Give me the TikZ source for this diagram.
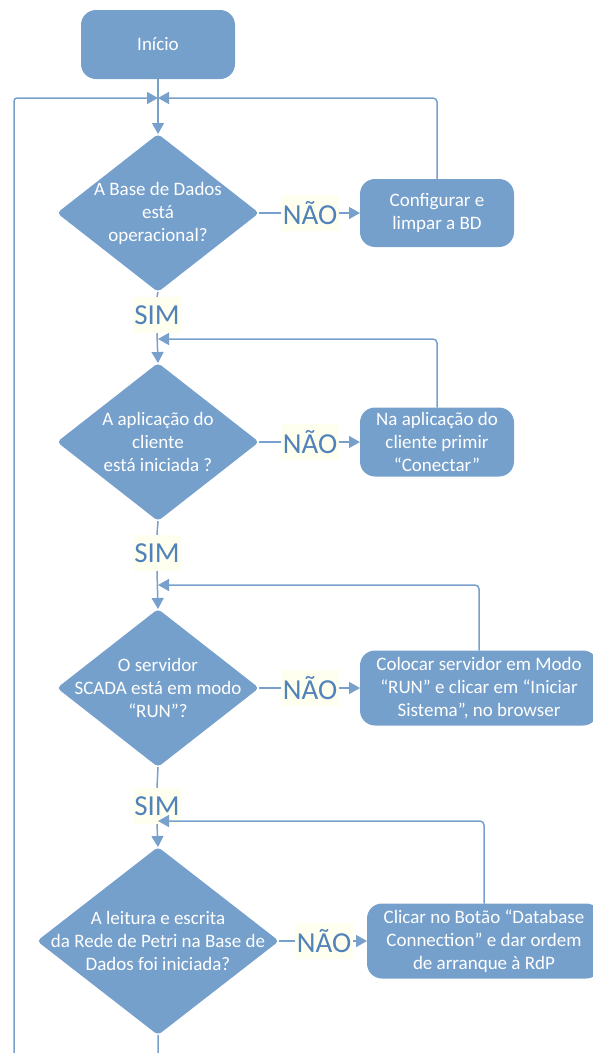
\documentclass[tikz,border=0pt]{standalone}
\usepackage{fontspec}
\setmainfont{Carlito}
\usetikzlibrary{shapes.geometric,arrows.meta}

\definecolor{boxblue}{RGB}{118,160,204}
\definecolor{lineblue}{RGB}{120,160,205}
\definecolor{lblblue}{RGB}{82,130,186}
\definecolor{lblback}{RGB}{255,255,240}

\tikzset{
  txt/.style={text=white,font=\fontsize{19}{23}\selectfont,align=center},
  stepbox/.style={fill=boxblue,rounded corners=15pt,inner sep=0pt,outer sep=0pt},
  decision/.style={diamond,fill=boxblue,rounded corners=4pt,inner sep=0pt,outer sep=0pt},
  answer/.style={fill=lblback,text=lblblue,font=\fontsize{29}{30}\selectfont,
    inner xsep=1.5pt,inner ysep=0pt,minimum height=36pt},
  flow/.style={draw=lineblue,line width=1.5pt,-{Triangle[length=11pt,width=12pt]}},
  wire/.style={draw=lineblue,line width=1.5pt}
}

\begin{document}
\begin{tikzpicture}[x=1pt,y=-1pt]
  \useasboundingbox (0,0) rectangle (593,1053);

  % start and the four questions
  \node[stepbox,txt,minimum width=154pt,minimum height=69pt] (start) at (158,44.5) {Início};
  \node[decision,minimum width=202pt,minimum height=158pt] (q1) at (158,213) {};
  \node[decision,minimum width=202pt,minimum height=158pt] (q2) at (158,442) {};
  \node[decision,minimum width=202pt,minimum height=158pt] (q3) at (158,688) {};
  \node[decision,minimum width=242pt,minimum height=188pt] (q4) at (158,941) {};
  \node[txt] (q1t) at (q1) {A Base de Dados\\está\\operacional?};
  \node[txt] (q2t) at (q2) {A aplicação do\\cliente\\está iniciada ?};
  \node[txt] (q3t) at (q3) {O servidor\\SCADA está em modo\\“RUN”?};
  \node[txt] (q4t) at (q4) {A leitura e escrita\\da Rede de Petri na Base de\\Dados foi iniciada?};

  % actions on the NÃO side
  \node[stepbox,txt,minimum width=154pt,minimum height=68pt] (b1) at (437,213) {Configurar e\\limpar a BD};
  \node[stepbox,txt,minimum width=154pt,minimum height=69pt] (b2) at (437,442) {Na aplicação do\\cliente primir\\“Conectar”};
  \node[stepbox,txt,minimum width=238pt,minimum height=75pt] (b3) at (479,688) {Colocar servidor em Modo\\“RUN” e clicar em “Iniciar\\Sistema”, no browser};
  \node[stepbox,txt,minimum width=234pt,minimum height=75pt] (b4) at (484,941) {Clicar no Botão “Database\\Connection” e dar ordem\\de arranque à RdP};

  % answer labels
  \node[answer] (no1) at (310,213) {NÃO};
  \node[answer] (no2) at (310,442) {NÃO};
  \node[answer] (no3) at (310,688) {NÃO};
  \node[answer] (no4) at (324,941) {NÃO};
  \node[answer] (yes1) at (157,315) {SIM};
  \node[answer] (yes2) at (157,553) {SIM};
  \node[answer] (yes3) at (157,806) {SIM};

  % points where the loops come back
  \coordinate (j1) at (158,98);
  \coordinate (j2) at (158,339);
  \coordinate (j3) at (158,585);
  \coordinate (j4) at (158,821);
  \coordinate (back) at (14,1080);

  % main line
  \draw[flow] (start.south) -- (q1.north);
  \foreach \q/\y/\n in {q1/yes1/q2,q2/yes2/q3,q3/yes3/q4} {
    \draw[wire] (\q.south) -- (\y.north);
    \draw[flow] (\y.south) -- (\n.north);
  }
  \draw[flow,rounded corners=3pt] (q4.south) |- (back) |- (j1);

  % NÃO branches and their loops
  \foreach \q/\a/\b/\j in {q1/no1/b1/j1,q2/no2/b2/j2,q3/no3/b3/j3,q4/no4/b4/j4} {
    \draw[wire] (\q.east) -- (\a.west);
    \draw[flow] (\a.east) -- (\b.west);
    \draw[flow,rounded corners=4pt] (\b.north) |- (\j);
  }
\end{tikzpicture}
\end{document}
